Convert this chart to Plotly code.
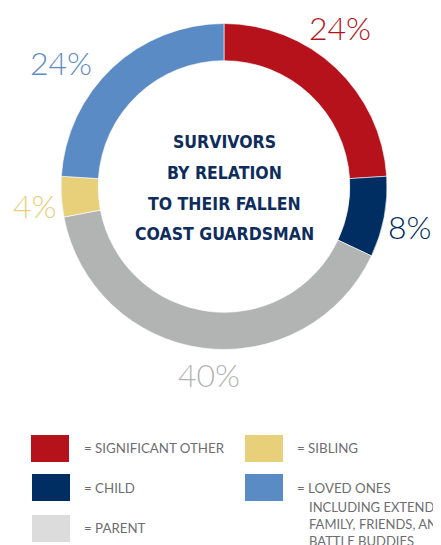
import plotly.graph_objects as go

# ---- data ----
categories = ["Significant Other", "Child", "Parent", "Sibling", "Loved Ones"]
values = [24, 8, 40, 4, 24]
slice_colors = ["#B5121B", "#002D62", "#B2B4B3", "#E8CF7A", "#5B8BC5"]
legend_colors = ["#B5121B", "#002D62", "#DCDCDC", "#E8CF7A", "#5B8BC5"]
legend_labels = ["= SIGNIFICANT OTHER", "= CHILD", "= PARENT", "= SIBLING", "= LOVED ONES"]
loved_ones_note = ["INCLUDING EXTENDED", "FAMILY, FRIENDS, AND", "BATTLE BUDDIES"]
center_title = ["SURVIVORS", "BY RELATION", "TO THEIR FALLEN", "COAST GUARDSMAN"]

# page has an 8px body margin; figure fills the rest of the window
OFF = 8
W, H = 441 - OFF, 545 - OFF
def px(x):
    return (x - OFF) / W
def py(y):
    return 1 - (y - OFF) / H

cx, cy, R = 224, 186.5, 163
fig = go.Figure(go.Pie(
    labels=categories, values=values, sort=False, direction="clockwise", rotation=0,
    hole=0.772, marker=dict(colors=slice_colors, line=dict(color="white", width=0.6)),
    textinfo="none", hoverinfo="none", showlegend=False,
    domain=dict(x=[px(cx - R), px(cx + R)], y=[py(cy + R), py(cy - R)]),
))

annotations = []
# percentage labels (layout positions in pixels)
label_pos = [(340, 27), (410, 226), (209, 374), (35, 205), (61, 63)]
for v, c, (lx, ly) in zip(values, slice_colors, label_pos):
    annotations.append(dict(x=px(lx), y=py(ly), xref="paper", yref="paper", text=f"{v}%",
                            showarrow=False, xanchor="center", yanchor="middle",
                            font=dict(family="Lato", size=32, color=c, weight=300)))

# center title
for i, line in enumerate(center_title):
    annotations.append(dict(x=px(cx), y=py(141.5 + 31 * i), xref="paper", yref="paper", text=line,
                            showarrow=False, xanchor="center", yanchor="middle",
                            font=dict(family="DejaVu Sans Condensed", size=17.5,
                                      color="#0F2D5C", weight="bold")))

# legend
shapes = []
sq_pos = [(31, 435), (32, 474), (32, 515), (245, 435), (245, 474)]
txt_pos = [(82, 448), (82, 488), (82, 528), (295, 448), (295, 488)]
for col, lab, (sx, sy), (tx, ty) in zip(legend_colors, legend_labels, sq_pos, txt_pos):
    shapes.append(dict(type="rect", xref="paper", yref="paper", x0=px(sx), x1=px(sx + 38),
                       y0=py(sy + 27), y1=py(sy), fillcolor=col, line=dict(width=0)))
    annotations.append(dict(x=px(tx), y=py(ty), xref="paper", yref="paper", text=lab,
                            showarrow=False, xanchor="left", yanchor="middle",
                            font=dict(family="Lato", size=13.3, color="#6D6E71")))
annotations.append(dict(x=px(307), y=py(497), xref="paper", yref="paper",
                        text="<br>".join(loved_ones_note), showarrow=False, align="left",
                        xanchor="left", yanchor="top",
                        font=dict(family="Lato", size=13, color="#6D6E71")))

fig.update_layout(width=W, height=H, margin=dict(l=0, r=0, t=0, b=0),
                  paper_bgcolor="white", plot_bgcolor="white",
                  annotations=annotations, shapes=shapes)
fig.write_html("out.html")
